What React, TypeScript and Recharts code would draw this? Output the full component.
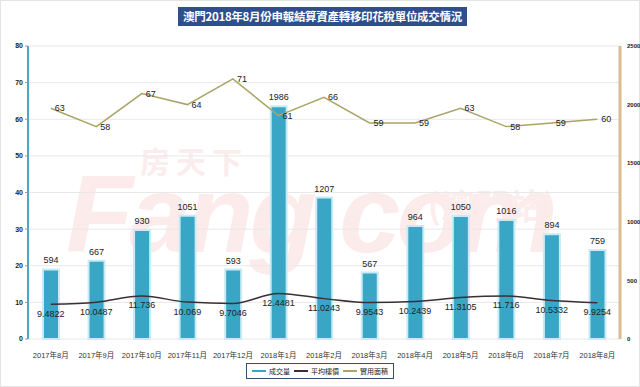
import { ComposedChart, Bar, Line, XAxis, YAxis, CartesianGrid, Legend, LabelList } from 'recharts'

const months = [
  '2017年8月', '2017年9月', '2017年10月', '2017年11月', '2017年12月', '2018年1月', '2018年2月',
  '2018年3月', '2018年4月', '2018年5月', '2018年6月', '2018年7月', '2018年8月',
]
const volume = [594, 667, 930, 1051, 593, 1986, 1207, 567, 964, 1050, 1016, 894, 759]
const avgPrice = [9.4822, 10.0487, 11.736, 10.069, 9.7046, 12.4481, 11.0243, 9.9543, 10.2439, 11.3105, 11.716, 10.5332, 9.9254]
const usableArea = [63, 58, 67, 64, 71, 61, 66, 59, 59, 63, 58, 59, 60]

const leftTicks = [0, 10, 20, 30, 40, 50, 60, 70, 80]
const rightTicks = [0, 500, 1000, 1500, 2000, 2500]

const FONT = '"Liberation Sans", Arial, "Noto Sans CJK TC", sans-serif'
const BAR_COLOR = '#3aa6c6'
const PRICE_COLOR = '#3b2e34'
const AREA_COLOR = '#a9a468'

const data = months.map((m, i) => ({
  name: m,
  volume: volume[i],
  price: avgPrice[i],
  area: usableArea[i],
}))

function LegendBox() {
  const items = [
    { label: '成交量', color: BAR_COLOR },
    { label: '平均樓價', color: PRICE_COLOR },
    { label: '實用面積', color: AREA_COLOR },
  ]
  return (
    <div style={{ display: 'flex', justifyContent: 'center' }}>
      <div style={{
        display: 'flex', alignItems: 'center', gap: 4, border: '1px solid #34506e',
        padding: '2px 5px', background: '#fff', fontSize: 7, color: '#222', fontFamily: FONT,
      }}>
        {items.map(it => (
          <span key={it.label} style={{ display: 'flex', alignItems: 'center', gap: 3 }}>
            <span style={{ width: 14, height: 2, background: it.color, display: 'inline-block' }} />
            {it.label}
          </span>
        ))}
      </div>
    </div>
  )
}

export default function App() {
  return (
    <div style={{
      position: 'absolute', left: 0, top: 0, width: 640, height: 387, background: '#fff',
      fontFamily: FONT, overflow: 'hidden',
    }}>
      <div style={{ position: 'absolute', inset: 0, border: '1px solid #e4e4e4', pointerEvents: 'none' }} />
      {/* faint watermark */}
      <div style={{ position: 'absolute', left: 140, top: 138, fontSize: 30, fontWeight: 700, color: '#fbeded', fontFamily: '"Noto Sans CJK SC", sans-serif', letterSpacing: 6 }}>房天下</div>
      <div style={{ position: 'absolute', left: 66, top: 150, fontSize: 110, fontWeight: 700, fontStyle: 'italic', color: '#fbebeb', fontFamily: FONT, letterSpacing: -4 }}>Fang.com</div>
      <div style={{ position: 'absolute', left: 428, top: 180, fontSize: 34, fontWeight: 700, color: '#fbeded', fontFamily: '"Noto Sans CJK TC", sans-serif' }}>(澳門站)</div>

      <div style={{
        position: 'absolute', left: 178, top: 7, width: 289, height: 19, background: '#2e4e8c',
        color: '#fff', fontSize: 11.5, fontWeight: 700, lineHeight: '19px', textAlign: 'center',
        fontFamily: '"Noto Sans CJK TC", serif', whiteSpace: 'nowrap', letterSpacing: -0.3,
      }}>
        澳門2018年8月份申報結算資產轉移印花稅單位成交情況
      </div>

      <div style={{ position: 'absolute', left: 0, top: 0 }}>
        <ComposedChart width={640} height={387} data={data} margin={{ top: 46, right: 0, left: 0, bottom: 6 }}>
          <CartesianGrid yAxisId="left" vertical={false} stroke="#e8e8e8" />
          <XAxis
            dataKey="name"
            tick={{ fontSize: 7.5, fill: '#333' }}
            tickLine={false}
            axisLine={false}
            height={24}
            interval={0}
            tickMargin={8}
          />
          <YAxis
            yAxisId="left"
            domain={[0, 80]}
            ticks={leftTicks}
            width={28}
            axisLine={{ stroke: '#4aa8c8', strokeWidth: 2 }}
            tickLine={{ stroke: '#999' }}
            tickSize={3}
            tick={{ fontSize: 7, fill: '#222', fontWeight: 700 }}
          />
          <YAxis
            yAxisId="right"
            orientation="right"
            domain={[0, 2500]}
            ticks={rightTicks}
            width={20}
            axisLine={{ stroke: '#d8bb8e', strokeWidth: 3 }}
            tickLine={false}
            tick={{ fontSize: 6, fill: '#222', fontWeight: 700 }}
            tickMargin={1}
          />
          <Legend verticalAlign="bottom" height={18} content={() => <LegendBox />} />
          <Bar yAxisId="right" dataKey="volume" name="成交量" barSize={16} fill={BAR_COLOR} stroke="#c8ebf4" strokeWidth={2} isAnimationActive={false}>
            <LabelList dataKey="volume" position="top" offset={6} style={{ fontSize: 9, fill: '#222' }} />
          </Bar>
          <Line yAxisId="left" type="monotone" dataKey="price" name="平均樓價" stroke={PRICE_COLOR} strokeWidth={1.5} dot={false} isAnimationActive={false}>
            <LabelList dataKey="price" position="bottom" offset={6} style={{ fontSize: 9, fill: '#222' }} />
          </Line>
          <Line yAxisId="left" type="linear" dataKey="area" name="實用面積" stroke={AREA_COLOR} strokeWidth={1.5} dot={false} isAnimationActive={false}>
            <LabelList dataKey="area" position="right" offset={4} style={{ fontSize: 9, fill: '#222' }} />
          </Line>
        </ComposedChart>
      </div>
    </div>
  )
}
